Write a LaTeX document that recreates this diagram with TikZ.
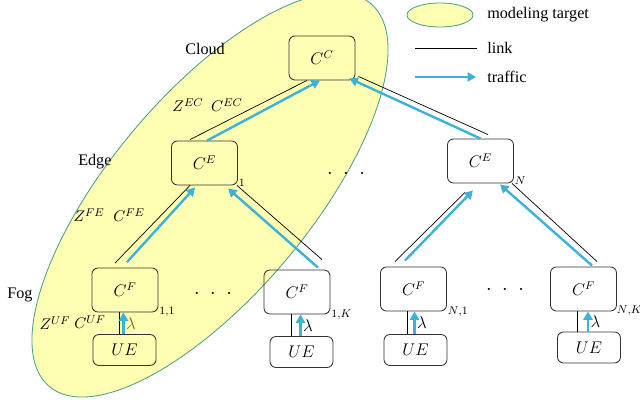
\documentclass[tikz,border=0pt]{standalone}
\usepackage{fontspec}
\setmainfont{Liberation Serif}
\usetikzlibrary{arrows.meta, calc}

\definecolor{targetfill}{HTML}{FFFFB3}
\definecolor{targetline}{HTML}{4E9E8A}
\definecolor{trafficblue}{HTML}{3DB1D8}
\definecolor{lambdaolive}{HTML}{6E6E2A}

\tikzset{
	box/.style = {draw = black!80, line width = 0.6pt, rounded corners = 0.15cm, minimum width = 1.65cm, minimum height = 1.1cm, inner sep = 0pt, font = \fontsize{11.5}{13}\selectfont},
	uebox/.style = {box, minimum width = 1.575cm, minimum height = 0.775cm},
	link/.style = {draw = black, line width = 0.5pt},
	traffic/.style = {draw = trafficblue, line width = 1.7pt, -{Triangle[length = 6pt, width = 6.5pt]}},
	target/.style = {fill = targetfill, draw = targetline, line width = 0.6pt},
	layer/.style = {anchor = west, inner sep = 0pt, font = \fontsize{11.5}{13}\selectfont},
	param/.style = {inner sep = 0pt, font = \fontsize{11}{13}\selectfont},
	index/.style = {anchor = west, inner sep = 0.5pt, font = \fontsize{8}{10}\selectfont},
	etc/.style = {inner sep = 0pt, font = \fontsize{14}{14}\selectfont}
}

\begin{document}
\begin{tikzpicture}[x = 0.025cm, y = 0.025cm]
	\useasboundingbox (0,0) rectangle (640,400);

	\begin{scope}
		\draw [target, rotate around = {50:(210,205)}] (210,205) ellipse [x radius = 250, y radius = 100];
		\draw [target] (440,385) ellipse [x radius = 33, y radius = 12];
	\end{scope}

	\begin{scope}
		\node [layer] (legtarget) at (487,385) {modeling target};
		\coordinate (linkA) at (415,352);
		\coordinate (linkB) at (477,352);
		\draw [link] (linkA) -- (linkB);
		\node [layer] (leglink) at (487,352) {link};
		\coordinate (trafA) at (415,323);
		\coordinate (trafB) at (476,323);
		\draw [traffic] (trafA) -- (trafB);
		\node [layer] (legtraffic) at (487,323) {traffic};
	\end{scope}

	\begin{scope}
		\node [box] (CC) at (322,342) {$C^C$};
		\node [box] (CE1) at (204.5,237) {$C^E$};
		\node [box] (CEN) at (480.5,239) {$C^E$};
		\node [box] (CF11) at (125,110) {$C^F$};
		\node [box] (CF1K) at (297,108) {$C^F$};
		\node [box] (CFN1) at (413.5,111) {$C^F$};
		\node [box] (CFNK) at (583.5,111) {$C^F$};
		\node [uebox] (UE11) at (124.5,50) {$UE$};
		\node [uebox] (UE1K) at (301.5,48) {$UE$};
		\node [uebox] (UEN1) at (415.5,50) {$UE$};
		\node [uebox] (UENK) at (589,52.5) {$UE$};
	\end{scope}

	\begin{scope}
		\node [index] (idxE1) at ([shift = {(0,3)}]CE1.south east) {$1$};
		\node [index] (idxEN) at ([shift = {(0,3)}]CEN.south east) {$N$};
		\node [index] (idxF11) at ([shift = {(0,0)}]CF11.south east) {$1{,}1$};
		\node [index] (idxF1K) at ([shift = {(0,0)}]CF1K.south east) {$1{,}K$};
		\node [index] (idxFN1) at ([shift = {(0,0)}]CFN1.south east) {$N{,}1$};
		\node [index] (idxFNK) at ([shift = {(-1,1)}]CFNK.south east) {$N{,}K$};
	\end{scope}

	\begin{scope}
		\node [layer] (cloud) at (185,351) {Cloud};
		\node [layer] (edge) at (78,238) {Edge};
		\node [layer] (fog) at (7,105) {Fog};
		\node [param] (ZEC) at (188,295) {$Z^{EC}$};
		\node [param] (CEC) at (227,295) {$C^{EC}$};
		\node [param] (ZFE) at (89,185) {$Z^{FE}$};
		\node [param] (CFE) at (129,185) {$C^{FE}$};
		\node [param] (ZUF) at (55,77) {$Z^{UF}$};
		\node [param] (CUF) at (90,78) {$C^{UF}$};
		\node [etc] (dotsE) at (346,226) {${\cdot}\hspace{7.5pt}{\cdot}\hspace{7.5pt}{\cdot}$};
		\node [etc] (dotsF1) at (213,106) {${\cdot}\hspace{7.5pt}{\cdot}\hspace{7.5pt}{\cdot}$};
		\node [etc] (dotsFN) at (505,110) {${\cdot}\hspace{7.5pt}{\cdot}\hspace{7.5pt}{\cdot}$};
	\end{scope}

	% edge to cloud
	\begin{scope}
		\draw [link] ([shift = {(-14.5,1)}]CE1.north) -- ([shift = {(-15,0)}]CC.south);
		\draw [traffic] ([shift = {(2.5,0)}]CE1.north) -- ([shift = {(-2,0)}]CC.south);
		\draw [link] ([shift = {(7.5,4)}]CEN.north) -- ([shift = {(3,4)}]CC.south east);
		\draw [traffic] (CEN.north) -- ([shift = {(-6,2)}]CC.south east);
	\end{scope}

	% fog to edge
	\begin{scope}
		\draw [link] ([shift = {(-14.5,0)}]CE1.south) -- ([shift = {(-10,4.5)}]CF11.north);
		\draw [traffic] ([shift = {(2,5.5)}]CF11.north) -- ([shift = {(-9.5,-2)}]CE1.south);
		\draw [link] ([shift = {(-1,0)}]CE1.south east) -- ([shift = {(25,10)}]CF1K.north);
		\draw [traffic] ([shift = {(21,2)}]CF1K.north) -- ([shift = {(23.5,-3)}]CE1.south);
		\draw [link] ([shift = {(-18.5,5)}]CFN1.north) -- ([shift = {(-15.5,-9)}]CEN.south);
		\draw [traffic] ([shift = {(-8.5,6)}]CFN1.north) -- ([shift = {(-7.5,-7)}]CEN.south);
		\draw [link] ([shift = {(13.5,5)}]CFNK.north) -- ([shift = {(31.5,0)}]CEN.south);
		\draw [traffic] ([shift = {(8.5,1)}]CFNK.north) -- ([shift = {(19.5,-1)}]CEN.south);
	\end{scope}

	% user to fog
	\foreach \cf/\ue/\lc in {CF11/UE11/lambdaolive, CF1K/UE1K/black, CFN1/UEN1/black, CFNK/UENK/black}
	{
		\draw [link] ([shift = {(-6,0)}]\cf.south) -- ([shift = {(-6,0)}]\cf.south |- \ue.north);
		\draw [traffic] ([shift = {(-1,0)}]\ue.north) -- ([shift = {(-1,0)}]\ue.north |- \cf.south)
			node [midway, right = 1pt, inner sep = 0pt, text = \lc, font = \fontsize{12.5}{13}\selectfont] {$\lambda$};
	}
\end{tikzpicture}
\end{document}
